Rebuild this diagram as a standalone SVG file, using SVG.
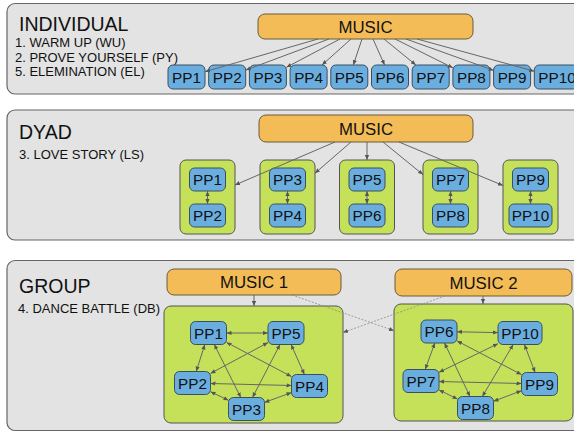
<svg xmlns="http://www.w3.org/2000/svg" width="574" height="432" viewBox="0 0 574 432">
<defs>
<marker id="ah" viewBox="0 0 6 6" refX="6" refY="3" markerWidth="5" markerHeight="5" orient="auto-start-reverse" markerUnits="userSpaceOnUse">
<path d="M0,0.5 L6,3 L0,5.5 z" fill="#555"/>
</marker>
</defs>
<style>
.panel{fill:#e3e3e3;stroke:#666;stroke-width:1.2}
.music{fill:#f3bc57;stroke:#6b5a3a;stroke-width:1}
.green{fill:#c5e15a;stroke:#555;stroke-width:1}
.pp{fill:#6aaee0;stroke:#3a4f60;stroke-width:1}
.title{font-family:"Liberation Sans",Arial,sans-serif;font-size:19.5px;fill:#111}
.sub{font-family:"Liberation Sans",Arial,sans-serif;font-size:13px;fill:#111}
.mt{font-family:"Liberation Sans",Arial,sans-serif;font-size:16.8px;fill:#111;text-anchor:middle}
.pt{font-family:"Liberation Sans",Arial,sans-serif;font-size:15.3px;fill:#111;text-anchor:middle}
.e{stroke:#666;stroke-width:1;fill:none;marker-end:url(#ah)}
.d{stroke:#666;stroke-width:1;fill:none;marker-end:url(#ah);marker-start:url(#ah)}
.x{stroke:#8a8a8a;stroke-width:0.8;fill:none;stroke-dasharray:2 1.5;marker-end:url(#ah)}
</style>

<g id="panels">
<rect class="panel" x="7" y="3.5" width="580" height="90.5" rx="8"/>
<rect class="panel" x="7" y="110" width="580" height="130" rx="8"/>
<rect class="panel" x="7" y="260.5" width="580" height="170" rx="8"/>
</g>

<g id="labels">
<text class="title" x="19" y="31">INDIVIDUAL</text>
<text class="sub" x="15" y="47">1. WARM UP (WU)</text>
<text class="sub" x="15" y="61.7">2. PROVE YOURSELF (PY)</text>
<text class="sub" x="15" y="76">5. ELEMINATION (EL)</text>
<text class="title" x="19" y="139">DYAD</text>
<text class="sub" x="19" y="159">3. LOVE STORY (LS)</text>
<text class="title" x="19" y="293">GROUP</text>
<text class="sub" x="18" y="313">4. DANCE BATTLE (DB)</text>
</g>

<g id="i-music"><rect class="music" x="258" y="14" width="215" height="25" rx="7"/><text class="mt" x="365.5" y="32.5">MUSIC</text></g>
<g id="i-pp1"><rect class="pp" x="168" y="65" width="37" height="24" rx="5"/><text class="pt" x="186.5" y="82.7">PP1</text></g>
<g id="i-pp2"><rect class="pp" x="208.7" y="65" width="37" height="24" rx="5"/><text class="pt" x="227.2" y="82.7">PP2</text></g>
<g id="i-pp3"><rect class="pp" x="249.4" y="65" width="37" height="24" rx="5"/><text class="pt" x="267.9" y="82.7">PP3</text></g>
<g id="i-pp4"><rect class="pp" x="290.1" y="65" width="37" height="24" rx="5"/><text class="pt" x="308.6" y="82.7">PP4</text></g>
<g id="i-pp5"><rect class="pp" x="330.8" y="65" width="37" height="24" rx="5"/><text class="pt" x="349.3" y="82.7">PP5</text></g>
<g id="i-pp6"><rect class="pp" x="371.5" y="65" width="37" height="24" rx="5"/><text class="pt" x="390" y="82.7">PP6</text></g>
<g id="i-pp7"><rect class="pp" x="412.2" y="65" width="37" height="24" rx="5"/><text class="pt" x="430.7" y="82.7">PP7</text></g>
<g id="i-pp8"><rect class="pp" x="452.9" y="65" width="37" height="24" rx="5"/><text class="pt" x="471.4" y="82.7">PP8</text></g>
<g id="i-pp9"><rect class="pp" x="493.6" y="65" width="37" height="24" rx="5"/><text class="pt" x="512.1" y="82.7">PP9</text></g>
<g id="i-pp10"><rect class="pp" x="534.3" y="65" width="44" height="24" rx="5"/><text class="pt" x="557" y="82.7">PP10</text></g>

<g id="d-music"><rect class="music" x="259" y="115" width="214" height="27" rx="7"/><text class="mt" x="366" y="134.5">MUSIC</text></g>
<g id="d-pair1"><rect class="green" x="180" y="160" width="55" height="74" rx="6"/>
<rect class="pp" x="189.5" y="168" width="36" height="23" rx="5"/><text class="pt" x="207.5" y="185">PP1</text>
<rect class="pp" x="189.5" y="204" width="36" height="23" rx="5"/><text class="pt" x="207.5" y="221">PP2</text></g>
<g id="d-pair2"><rect class="green" x="260" y="160" width="55" height="74" rx="6"/>
<rect class="pp" x="269.5" y="168" width="36" height="23" rx="5"/><text class="pt" x="287.5" y="185">PP3</text>
<rect class="pp" x="269.5" y="204" width="36" height="23" rx="5"/><text class="pt" x="287.5" y="221">PP4</text></g>
<g id="d-pair3"><rect class="green" x="339.5" y="160" width="55" height="74" rx="6"/>
<rect class="pp" x="349" y="168" width="36" height="23" rx="5"/><text class="pt" x="367" y="185">PP5</text>
<rect class="pp" x="349" y="204" width="36" height="23" rx="5"/><text class="pt" x="367" y="221">PP6</text></g>
<g id="d-pair4"><rect class="green" x="423" y="160" width="55" height="74" rx="6"/>
<rect class="pp" x="432.5" y="168" width="36" height="23" rx="5"/><text class="pt" x="450.5" y="185">PP7</text>
<rect class="pp" x="432.5" y="204" width="36" height="23" rx="5"/><text class="pt" x="450.5" y="221">PP8</text></g>
<g id="d-pair5"><rect class="green" x="503" y="160" width="55" height="74" rx="6"/>
<rect class="pp" x="512.5" y="168" width="36" height="23" rx="5"/><text class="pt" x="530.5" y="185">PP9</text>
<rect class="pp" x="509" y="204" width="43" height="23" rx="5"/><text class="pt" x="530.5" y="221">PP10</text></g>

<g id="g-music1"><rect class="music" x="167" y="269" width="174" height="26" rx="7"/><text class="mt" x="254" y="288">MUSIC 1</text></g>
<g id="g-music2"><rect class="music" x="395" y="269" width="177" height="27" rx="7"/><text class="mt" x="483.5" y="288.5">MUSIC 2</text></g>
<g id="g-team1"><rect class="green" x="164" y="306" width="179" height="117" rx="7"/></g>
<g id="g-team2"><rect class="green" x="394" y="304" width="179" height="117" rx="7"/></g>

<g id="connectors">
<line class="e" x1="318" y1="39" x2="205" y2="71.7"/>
<line class="e" x1="329" y1="39" x2="245.7" y2="70.1"/>
<line class="e" x1="340" y1="39" x2="286.4" y2="67.3"/>
<line class="e" x1="351" y1="39" x2="322" y2="65"/>
<line class="e" x1="362" y1="39" x2="353.3" y2="65"/>
<line class="e" x1="373" y1="39" x2="384.6" y2="65"/>
<line class="e" x1="384" y1="39" x2="415.9" y2="65"/>
<line class="e" x1="395" y1="39" x2="452.9" y2="67.8"/>
<line class="e" x1="406" y1="39" x2="493.6" y2="70.4"/>
<line class="e" x1="417" y1="39" x2="534.3" y2="71.2"/>

<line class="e" x1="335" y1="142" x2="235" y2="185"/>
<line class="e" x1="351" y1="142" x2="315" y2="173.2"/>
<line class="e" x1="367" y1="142" x2="367" y2="160"/>
<line class="e" x1="383" y1="142" x2="423" y2="174.6"/>
<line class="e" x1="399" y1="142" x2="503" y2="185.5"/>
<line class="d" x1="207.5" y1="191" x2="207.5" y2="204"/>
<line class="d" x1="287.5" y1="191" x2="287.5" y2="204"/>
<line class="d" x1="367" y1="191" x2="367" y2="204"/>
<line class="d" x1="450.5" y1="191" x2="450.5" y2="204"/>
<line class="d" x1="530.5" y1="191" x2="530.5" y2="204"/>

<line class="e" x1="254" y1="295" x2="254" y2="306"/>
<line class="e" x1="483" y1="296" x2="483" y2="304"/>
<line class="x" x1="292" y1="295" x2="394" y2="330.7"/>
<line class="x" x1="445" y1="296" x2="343" y2="332.5"/>

<line class="d" x1="226.5" y1="333" x2="268" y2="333"/>
<line class="d" x1="204.8" y1="344.5" x2="196.2" y2="371.5"/>
<line class="d" x1="214.3" y1="344.5" x2="240.8" y2="397.5"/>
<line class="d" x1="226.5" y1="342.4" x2="291.5" y2="376.6"/>
<line class="d" x1="268" y1="342.6" x2="210.5" y2="373.4"/>
<line class="d" x1="280" y1="344.5" x2="252.5" y2="397.5"/>
<line class="d" x1="291.1" y1="344.5" x2="304.4" y2="374.5"/>
<line class="d" x1="210.5" y1="383.5" x2="291.5" y2="385.5"/>
<line class="d" x1="210.5" y1="391.7" x2="228.5" y2="400.3"/>
<line class="d" x1="264.5" y1="402.4" x2="291.5" y2="392.6"/>

<line class="d" x1="457" y1="331.8" x2="498" y2="332.6"/>
<line class="d" x1="434.8" y1="343" x2="425.2" y2="369.5"/>
<line class="d" x1="444.5" y1="343" x2="470" y2="396.5"/>
<line class="d" x1="457" y1="340.9" x2="521.5" y2="374.6"/>
<line class="d" x1="498" y1="343.7" x2="439" y2="372.3"/>
<line class="d" x1="513.2" y1="344.5" x2="482.3" y2="396.5"/>
<line class="d" x1="524.4" y1="344.5" x2="535.1" y2="372.5"/>
<line class="d" x1="439" y1="381.5" x2="521.5" y2="383.5"/>
<line class="d" x1="439" y1="389.9" x2="457.5" y2="399.1"/>
<line class="d" x1="493.5" y1="401.3" x2="521.5" y2="390.7"/>
</g>

<g id="t1-pp1"><rect class="pp" x="190.5" y="321.5" width="36" height="23" rx="5"/><text class="pt" x="208.5" y="338.7">PP1</text></g>
<g id="t1-pp5"><rect class="pp" x="268" y="321.5" width="36" height="23" rx="5"/><text class="pt" x="286" y="338.7">PP5</text></g>
<g id="t1-pp2"><rect class="pp" x="174.5" y="371.5" width="36" height="23" rx="5"/><text class="pt" x="192.5" y="388.7">PP2</text></g>
<g id="t1-pp4"><rect class="pp" x="291.5" y="374.5" width="36" height="23" rx="5"/><text class="pt" x="309.5" y="391.7">PP4</text></g>
<g id="t1-pp3"><rect class="pp" x="228.5" y="397.5" width="36" height="23" rx="5"/><text class="pt" x="246.5" y="414.7">PP3</text></g>

<g id="t2-pp6"><rect class="pp" x="421" y="320" width="36" height="23" rx="5"/><text class="pt" x="439" y="337.2">PP6</text></g>
<g id="t2-pp10"><rect class="pp" x="498" y="321.5" width="44" height="23" rx="5"/><text class="pt" x="520" y="338.7">PP10</text></g>
<g id="t2-pp7"><rect class="pp" x="403" y="369.5" width="36" height="23" rx="5"/><text class="pt" x="421" y="386.7">PP7</text></g>
<g id="t2-pp9"><rect class="pp" x="521.5" y="372.5" width="36" height="23" rx="5"/><text class="pt" x="539.5" y="389.7">PP9</text></g>
<g id="t2-pp8"><rect class="pp" x="457.5" y="396.5" width="36" height="23" rx="5"/><text class="pt" x="475.5" y="413.7">PP8</text></g>
</svg>
